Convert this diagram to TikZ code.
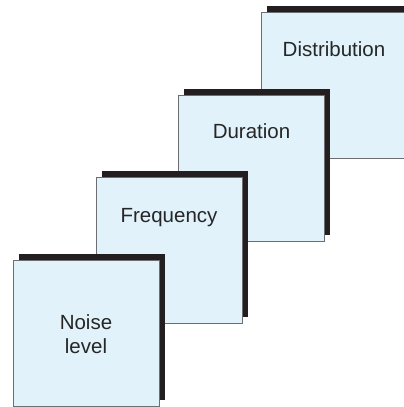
\documentclass[tikz,border=0pt]{standalone}
\usepackage{fontspec}
\setmainfont{Liberation Sans}
\usetikzlibrary{shadows}
\definecolor{boxfill}{HTML}{E1F2FA}
\definecolor{boxline}{HTML}{6D6E71}
\definecolor{shadowc}{HTML}{231F20}
\tikzset{
  card/.style={draw=boxline, line width=0.9pt, fill=boxfill, minimum width=146pt, minimum height=146pt, inner sep=0pt,
    drop shadow={shadow xshift=5.5pt, shadow yshift=5.5pt, fill=shadowc, opacity=1}},
  cardtext/.style={font=\fontsize{20.5pt}{24pt}\selectfont, text=black!85, anchor=base, align=center, inner sep=0pt}
}
\begin{document}
\begin{tikzpicture}[x=1pt,y=1pt]
\useasboundingbox (0,0) rectangle (404,407);
% boxes from back to front (y flipped: Y = 407 - y)
\node[card] (b4) at (334,407-85) {};
\node[card] (b3) at (251.5,407-168) {};
\node[card] (b2) at (169,407-250) {};
\node[card] (b1) at (86,407-333) {};
\node[cardtext] (t4) at (334,407-57) {Distribution};
\node[cardtext] (t3) at (251.5,407-139) {Duration};
\node[cardtext] (t2) at (169,407-223) {Frequency};
\node[cardtext, anchor=center] (t1) at (86,407-334) {Noise\\level};
\end{tikzpicture}
\end{document}
